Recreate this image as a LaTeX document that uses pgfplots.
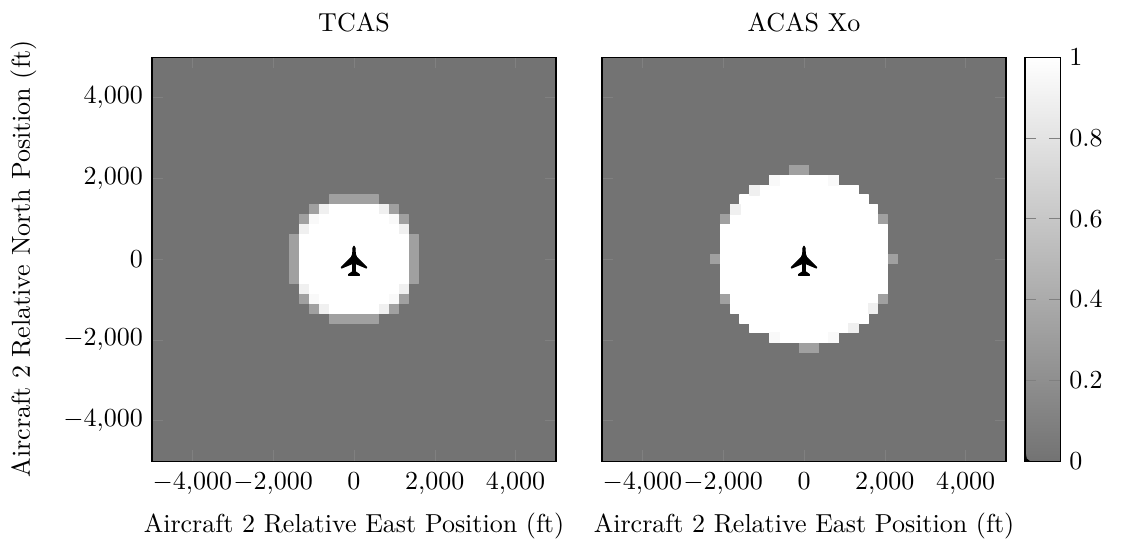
\documentclass[border=0pt]{standalone}
\usepackage{pgfplots}
\pgfplotsset{compat=1.18}
\pgfplotsset{
  grayscale/.style={colormap={graybar}{gray(0cm)=(0.45); gray(1cm)=(1)}},
  limits/.style={
    scale only axis, width=155.38pt, height=155.38pt, anchor=south west,
    xmin=-5000, xmax=5000, ymin=-5000, ymax=5000,
  },
  panel/.style={
    limits,
    xtick={-4000,-2000,0,2000,4000}, ytick={-4000,-2000,0,2000,4000},
    tick style={color=gray}, axis on top,
    grayscale, point meta min=0, point meta max=1,
    xlabel={Aircraft 2 Relative East Position (ft)},
    xlabel style={yshift=-0.5pt}, xticklabel style={yshift=-0.8pt},
  },
  planepatch/.style={patch, patch type=rectangle, shader=flat, point meta=explicit, forget plot,
    colormap={allblack}{gray(0cm)=(0); gray(1cm)=(0)}},
  cells/.style={patch, patch type=rectangle, shader=flat, point meta=explicit, forget plot},
}
\begin{document}
\begin{tikzpicture}
\path[use as bounding box] (-58.46pt,-32.69pt) rectangle (379.23pt,177.31pt);
\begin{axis}[panel, at={(0pt,0pt)}, title={TCAS},
  ylabel={Aircraft 2 Relative North Position (ft)}, ylabel style={yshift=3.5pt}]
\addplot[cells] coordinates {
(-5000,-5000)[0] (5000,-5000)[0] (5000,5000)[0] (-5000,5000)[0]
(-610,-1585)[0.32] (610,-1585)[0.32] (610,1585)[0.32] (-610,1585)[0.32]
(-1585,-610)[0.32] (1585,-610)[0.32] (1585,610)[0.32] (-1585,610)[0.32]
(-1098,-1098)[0.32] (1098,-1098)[0.32] (1098,1098)[0.32] (-1098,1098)[0.32]
(-1341,-1098)[0.32] (-1098,-1098)[0.32] (-1098,-854)[0.32] (-1341,-854)[0.32]
(1098,-1098)[0.32] (1341,-1098)[0.32] (1341,-854)[0.32] (1098,-854)[0.32]
(-1341,854)[0.32] (-1098,854)[0.32] (-1098,1098)[0.32] (-1341,1098)[0.32]
(1098,854)[0.32] (1341,854)[0.32] (1341,1098)[0.32] (1098,1098)[0.32]
(-1098,-1341)[0.32] (-854,-1341)[0.32] (-854,-1098)[0.32] (-1098,-1098)[0.32]
(854,-1341)[0.32] (1098,-1341)[0.32] (1098,-1098)[0.32] (854,-1098)[0.32]
(-1098,1098)[0.32] (-854,1098)[0.32] (-854,1341)[0.32] (-1098,1341)[0.32]
(854,1098)[0.32] (1098,1098)[0.32] (1098,1341)[0.32] (854,1341)[0.32]
(-854,-1341)[0.89] (-610,-1341)[0.89] (-610,-1098)[0.89] (-854,-1098)[0.89]
(610,-1341)[0.89] (854,-1341)[0.89] (854,-1098)[0.89] (610,-1098)[0.89]
(-854,1098)[0.89] (-610,1098)[0.89] (-610,1341)[0.89] (-854,1341)[0.89]
(610,1098)[0.89] (854,1098)[0.89] (854,1341)[0.89] (610,1341)[0.89]
(-1098,-1098)[0.95] (-854,-1098)[0.95] (-854,-854)[0.95] (-1098,-854)[0.95]
(854,-1098)[0.95] (1098,-1098)[0.95] (1098,-854)[0.95] (854,-854)[0.95]
(-1098,854)[0.95] (-854,854)[0.95] (-854,1098)[0.95] (-1098,1098)[0.95]
(854,854)[0.95] (1098,854)[0.95] (1098,1098)[0.95] (854,1098)[0.95]
(-1341,-854)[0.89] (-1098,-854)[0.89] (-1098,-610)[0.89] (-1341,-610)[0.89]
(1098,-854)[0.89] (1341,-854)[0.89] (1341,-610)[0.89] (1098,-610)[0.89]
(-1341,610)[0.89] (-1098,610)[0.89] (-1098,854)[0.89] (-1341,854)[0.89]
(1098,610)[0.89] (1341,610)[0.89] (1341,854)[0.89] (1098,854)[0.89]
(-1341,-610)[1] (1341,-610)[1] (1341,610)[1] (-1341,610)[1]
(-1098,-854)[1] (1098,-854)[1] (1098,854)[1] (-1098,854)[1]
(-854,-1098)[1] (854,-1098)[1] (854,1098)[1] (-854,1098)[1]
(-610,-1341)[1] (610,-1341)[1] (610,1341)[1] (-610,1341)[1]
};
\addplot[planepatch] coordinates {
(0,322)[0] (25,272)[0] (-25,272)[0] (0,322)[0]
(-25,272)[0] (25,272)[0] (33,124)[0] (-33,124)[0]
(-33,124)[0] (33,124)[0] (33,-313)[0] (-33,-313)[0]
(33,124)[0] (66,41)[0] (50,-116)[0] (33,-100)[0]
(66,41)[0] (313,-206)[0] (305,-223)[0] (50,-116)[0]
(-33,124)[0] (-66,41)[0] (-50,-116)[0] (-33,-100)[0]
(-66,41)[0] (-313,-206)[0] (-305,-223)[0] (-50,-116)[0]
(-33,-313)[0] (33,-313)[0] (132,-380)[0] (-132,-380)[0]
(-132,-380)[0] (132,-380)[0] (132,-412)[0] (-132,-412)[0]
};
\end{axis}
\begin{axis}[panel, at={(173.08pt,0pt)}, title={ACAS Xo}, yticklabels={},
  colorbar,
  colorbar style={
    at={(1.047,1)}, anchor=north west, width=13.5pt, height=155.38pt, scale only axis,
    ytick={0,0.2,0.4,0.6,0.8,1}, tick style={color=gray},
    extra description/.code={\fill[black] (axis description cs:0,0) -- (axis description cs:0,0.03) -- (axis description cs:0.05,0.006) -- (axis description cs:0.14,0) -- cycle;},
  }]
\addplot[cells] coordinates {
(-5000,-5000)[0] (5000,-5000)[0] (5000,5000)[0] (-5000,5000)[0]
(-366,2073)[0.32] (122,2073)[0.32] (122,2317)[0.32] (-366,2317)[0.32]
(-122,-2317)[0.32] (366,-2317)[0.32] (366,-2073)[0.32] (-122,-2073)[0.32]
(-2317,-122)[0.32] (2317,-122)[0.32] (2317,122)[0.32] (-2317,122)[0.32]
(-2073,-1098)[0.32] (-1829,-1098)[0.32] (-1829,-854)[0.32] (-2073,-854)[0.32]
(1829,-1098)[0.32] (2073,-1098)[0.32] (2073,-854)[0.32] (1829,-854)[0.32]
(-2073,854)[0.32] (-1829,854)[0.32] (-1829,1098)[0.32] (-2073,1098)[0.32]
(1829,854)[0.32] (2073,854)[0.32] (2073,1098)[0.32] (1829,1098)[0.32]
(-2073,-854)[1] (2073,-854)[1] (2073,854)[1] (-2073,854)[1]
(-1829,-1098)[1] (1829,-1098)[1] (1829,1098)[1] (-1829,1098)[1]
(-1829,-1341)[1] (1585,-1341)[1] (1585,-1098)[1] (-1829,-1098)[1]
(-1585,1098)[1] (1829,1098)[1] (1829,1341)[1] (-1585,1341)[1]
(-1585,-1585)[1] (1585,-1585)[1] (1585,1585)[1] (-1585,1585)[1]
(-1341,-1829)[1] (1098,-1829)[1] (1098,-1585)[1] (-1341,-1585)[1]
(-1098,1585)[1] (1341,1585)[1] (1341,1829)[1] (-1098,1829)[1]
(-610,-2073)[1] (610,-2073)[1] (610,2073)[1] (-610,2073)[1]
(-854,-2073)[0.95] (-610,-2073)[0.95] (-610,-1829)[0.95] (-854,-1829)[0.95]
(610,-2073)[0.95] (854,-2073)[0.95] (854,-1829)[0.95] (610,-1829)[0.95]
(-854,1829)[0.95] (-610,1829)[0.95] (-610,2073)[0.95] (-854,2073)[0.95]
(610,1829)[0.95] (854,1829)[0.95] (854,2073)[0.95] (610,2073)[0.95]
(1585,-1341)[0.89] (1829,-1341)[0.89] (1829,-1098)[0.89] (1585,-1098)[0.89]
(1098,-1829)[0.89] (1341,-1829)[0.89] (1341,-1585)[0.89] (1098,-1585)[0.89]
(-1829,1098)[0.89] (-1585,1098)[0.89] (-1585,1341)[0.89] (-1829,1341)[0.89]
(-1341,1585)[0.89] (-1098,1585)[0.89] (-1098,1829)[0.89] (-1341,1829)[0.89]
};
\addplot[planepatch] coordinates {
(0,322)[0] (25,272)[0] (-25,272)[0] (0,322)[0]
(-25,272)[0] (25,272)[0] (33,124)[0] (-33,124)[0]
(-33,124)[0] (33,124)[0] (33,-313)[0] (-33,-313)[0]
(33,124)[0] (66,41)[0] (50,-116)[0] (33,-100)[0]
(66,41)[0] (313,-206)[0] (305,-223)[0] (50,-116)[0]
(-33,124)[0] (-66,41)[0] (-50,-116)[0] (-33,-100)[0]
(-66,41)[0] (-313,-206)[0] (-305,-223)[0] (-50,-116)[0]
(-33,-313)[0] (33,-313)[0] (132,-380)[0] (-132,-380)[0]
(-132,-380)[0] (132,-380)[0] (132,-412)[0] (-132,-412)[0]
};
\end{axis}
\end{tikzpicture}
\end{document}
